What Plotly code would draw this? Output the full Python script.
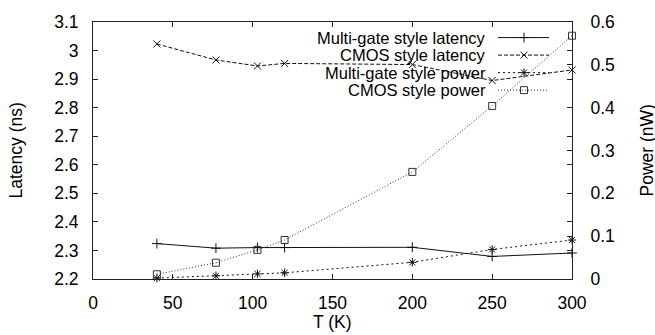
import plotly.graph_objects as go

# ---- data ----
T = [40, 77, 103, 120, 200, 250, 300]
mg_latency = [2.324, 2.308, 2.310, 2.310, 2.311, 2.279, 2.291]
cmos_latency = [3.023, 2.967, 2.946, 2.955, 2.951, 2.895, 2.932]
mg_power = [0.002, 0.0075, 0.012, 0.0144, 0.039, 0.069, 0.091]
cmos_power = [0.011, 0.038, 0.068, 0.091, 0.250, 0.404, 0.568]

series_names = ["Multi-gate style latency", "CMOS style latency",
                "Multi-gate style power", "CMOS style power"]

FONT = "Liberation Sans, Arial, sans-serif"
FS = 17.5
FS_LEG = 16.5
INK = "#111111"

# plot-area geometry in page pixels
L, R, TOP, BOT = 93, 572, 15, 279
W_, H_ = 655, 335


def px(xp):
    return (xp - L) / (R - L)


def py(yp):
    return (BOT - yp) / (BOT - TOP)


styles = [
    dict(dash="solid", symbol="cross-thin", color=INK),
    dict(dash="4px,2px", symbol="x-thin", color=INK),
    dict(dash="2px,3px", symbol="asterisk", color=INK),
    dict(dash="1px,2px", symbol="square-open", color="#333333"),
]

fig = go.Figure()

data = [(T, mg_latency, "y"), (T, cmos_latency, "y"),
        (T, mg_power, "y2"), (T, cmos_power, "y2")]

for (xs, ys, ax), st, nm in zip(data, styles, series_names):
    fig.add_trace(go.Scatter(
        x=xs, y=ys, yaxis=ax, name=nm, mode="lines+markers",
        line=dict(color=st["color"], width=1, dash=st["dash"]),
        marker=dict(symbol=st["symbol"], size=7, color=st["color"],
                    line=dict(color=st["color"], width=1)),
        cliponaxis=False, showlegend=False))

# ---- legend (gnuplot style: text right-aligned, sample to the right) ----
row_y = [31, 49, 67, 85]
for st, nm, ry in zip(styles, series_names, row_y):
    fig.add_trace(go.Scatter(
        x=[px(498), px(549)], y=[py(ry), py(ry)], xaxis="x3", yaxis="y3",
        mode="lines", line=dict(color=st["color"], width=1, dash=st["dash"]),
        showlegend=False, hoverinfo="skip"))
    fig.add_trace(go.Scatter(
        x=[px(524)], y=[py(ry)], xaxis="x3", yaxis="y3", mode="markers",
        marker=dict(symbol=st["symbol"], size=7, color=st["color"],
                    line=dict(color=st["color"], width=1)),
        showlegend=False, hoverinfo="skip", cliponaxis=False))
    fig.add_annotation(x=px(487), y=py(ry), xref="paper", yref="paper", text=nm,
                       showarrow=False, xanchor="right", yanchor="middle",
                       borderpad=0,
                       font=dict(family=FONT, size=FS_LEG, color="black"))

# axis titles
fig.add_annotation(x=px(15), y=py(147), xref="paper", yref="paper", text="Latency (ns)",
                   textangle=-90, showarrow=False, xanchor="center", yanchor="middle",
                   font=dict(family=FONT, size=FS, color="black"))
fig.add_annotation(x=px(646), y=py(147), xref="paper", yref="paper", text="Power (nW)",
                   textangle=-90, showarrow=False, xanchor="center", yanchor="middle",
                   font=dict(family=FONT, size=FS, color="black"))
fig.add_annotation(x=px(332), y=py(323), xref="paper", yref="paper", text="T (K)",
                   showarrow=False, xanchor="center", yanchor="middle",
                   font=dict(family=FONT, size=FS, color="black"))

axis_common = dict(showline=True, linecolor="#222222", linewidth=1,
                   ticks="inside", ticklen=5, tickcolor="#222222", tickwidth=1,
                   showgrid=False, zeroline=False,
                   tickfont=dict(family=FONT, size=FS, color="black"))

fig.update_layout(
    width=W_, height=H_,
    margin=dict(l=L, r=W_ - R, t=TOP, b=H_ - BOT, pad=0),
    paper_bgcolor="white", plot_bgcolor="white",
    showlegend=False,
    xaxis=dict(range=[0, 300], dtick=50, tick0=0, mirror="ticks",
               ticklabelstandoff=8, **axis_common),
    yaxis=dict(range=[2.2, 3.1], dtick=0.1, tick0=2.2, mirror="ticks",
               ticklabelstandoff=10, **axis_common),
    yaxis2=dict(range=[0, 0.6], dtick=0.1, tick0=0, overlaying="y", side="right",
                ticklabelstandoff=14, **axis_common),
    xaxis3=dict(range=[0, 1], overlaying="x", visible=False, fixedrange=True),
    yaxis3=dict(range=[0, 1], overlaying="y", visible=False, fixedrange=True),
)

fig.write_html("out.html", config={"displayModeBar": False},
               post_script="document.body.style.margin='0';document.body.style.padding='0';")
